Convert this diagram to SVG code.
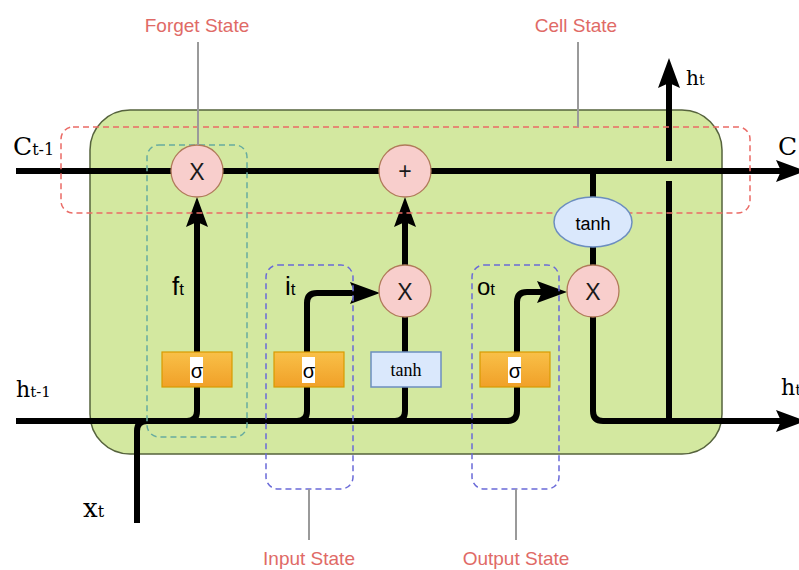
<svg xmlns="http://www.w3.org/2000/svg" width="799" height="570" viewBox="0 0 799 570">
<style>
.ln{fill:none;stroke:#000;stroke-width:6}
.arr{marker-end:url(#ah)}
.call{fill:none;stroke:#9a9a9a;stroke-width:2}
.ctext{font-family:"Liberation Sans",Arial,sans-serif;font-size:19px;fill:#e06a66;text-anchor:middle}
.serif{font-family:"DejaVu Serif","Liberation Serif",serif;fill:#000}
.sans{font-family:"Liberation Sans",Arial,sans-serif;fill:#000}
.op{fill:#f8cecc;stroke:#b07a5a;stroke-width:1.3}
.sig{fill:url(#og);stroke:#d79b00;stroke-width:1.2}
.blue{fill:#dae8fc;stroke:#6c8ebf;stroke-width:1.5}
.optext{font-family:"Liberation Sans",Arial,sans-serif;font-size:23px;text-anchor:middle;fill:#1a1a1a}
.dash{fill:none;stroke-width:1.5;stroke-dasharray:6 4}
</style>
<defs>
<marker id="ah" viewBox="0 0 30 22" markerWidth="30" markerHeight="22" refX="15" refY="11" markerUnits="userSpaceOnUse" orient="auto">
<path d="M0,0 L30,11 L0,22 L5,11 Z" fill="#000"/>
</marker>
<linearGradient id="og" x1="0" y1="0" x2="0" y2="1">
<stop offset="0" stop-color="#f9c048"/>
<stop offset="1" stop-color="#f0a028"/>
</linearGradient>
</defs>
<rect width="799" height="570" fill="#fff"/>

<g id="cell">
<rect x="90" y="110" width="632" height="344" rx="40" fill="#d3e8a0" stroke="#56633d" stroke-width="1.5"/>
</g>

<g id="connectors">
<path class="ln arr" d="M16,171 H791"/>
<path class="ln" d="M137,523 V431 Q137,421 147,421"/>
<path class="ln arr" d="M16,421 H507 Q517,421 517,411 V302 Q517,292 527,292 H552"/>
<path class="ln arr" d="M187,421 Q197,421 197,411 V212"/>
<path class="ln arr" d="M297,421 Q307,421 307,411 V303 Q307,293 317,293 H365"/>
<path class="ln" d="M395,421 Q405,421 405,411 V317"/>
<path class="ln arr" d="M405,265 V212"/>
<path class="ln" d="M593,171 V197"/>
<path class="ln" d="M593,247 V265"/>
<path class="ln arr" d="M593,317 V411 Q593,421 603,421 H791"/>
<path class="ln" d="M669,421 V181"/>
<path class="ln arr" d="M669,161 V73"/>
</g>

<g id="regions">
<rect class="dash" x="61" y="127" width="689" height="86" rx="12" stroke="#ea6b66"/>
<rect class="dash" x="147" y="145" width="100" height="292" rx="12" stroke="#67ab9f"/>
<rect class="dash" x="266" y="265" width="87" height="224" rx="12" stroke="#6a6ad8"/>
<rect class="dash" x="472" y="265" width="87" height="224" rx="12" stroke="#6a6ad8"/>
</g>

<g id="forget-mult">
<circle class="op" cx="197" cy="171" r="26"/>
<text class="optext" x="197" y="180">X</text>
</g>
<g id="add">
<circle class="op" cx="405" cy="171" r="26"/>
<text class="optext" x="405" y="179">+</text>
</g>
<g id="input-mult">
<circle class="op" cx="405" cy="291" r="26"/>
<text class="optext" x="405" y="300">X</text>
</g>
<g id="output-mult">
<circle class="op" cx="593" cy="291" r="26"/>
<text class="optext" x="593" y="300">X</text>
</g>
<g id="tanh-cell">
<ellipse class="blue" cx="593" cy="222" rx="39" ry="25"/>
<text class="sans" x="593" y="230" font-size="18" text-anchor="middle">tanh</text>
</g>
<g id="forget-sigma">
<rect class="sig" x="162" y="352" width="70" height="35"/>
<rect x="190" y="357" width="13" height="26" fill="#fff"/>
<text class="sans" x="197" y="378" font-size="20" text-anchor="middle">σ</text>
</g>
<g id="input-sigma">
<rect class="sig" x="274" y="352" width="70" height="35"/>
<rect x="302" y="357" width="13" height="26" fill="#fff"/>
<text class="sans" x="309" y="378" font-size="20" text-anchor="middle">σ</text>
</g>
<g id="input-tanh">
<rect class="blue" x="371" y="352" width="70" height="35"/>
<text x="406" y="376" font-family="'Liberation Serif','Times New Roman',serif" font-size="18" text-anchor="middle">tanh</text>
</g>
<g id="output-sigma">
<rect class="sig" x="480" y="352" width="70" height="35"/>
<rect x="508" y="357" width="13" height="26" fill="#fff"/>
<text class="sans" x="515" y="378" font-size="20" text-anchor="middle">σ</text>
</g>

<g id="labels">
<text class="serif" x="13" y="155" font-size="25">C<tspan font-size="16">t-1</tspan></text>
<text class="serif" x="778" y="155" font-size="25">C</text>
<text class="serif" x="16" y="397" font-size="22">h<tspan font-size="15">t-1</tspan></text>
<text class="serif" x="781" y="395" font-size="22">h<tspan font-size="15">t</tspan></text>
<text class="serif" x="686" y="85" font-size="20">h<tspan font-size="14">t</tspan></text>
<text class="serif" x="83" y="517" font-size="26">x<tspan font-size="16">t</tspan></text>
<text class="sans" x="172" y="295" font-size="26">f<tspan font-size="17">t</tspan></text>
<text class="sans" x="285" y="295" font-size="26">i<tspan font-size="17">t</tspan></text>
<text class="sans" x="477" y="295" font-size="24">o<tspan font-size="17">t</tspan></text>
</g>

<g id="callouts">
<path class="call" d="M198,42 V145"/>
<path class="call" d="M578,42 V127"/>
<path class="call" d="M309,489 V540"/>
<path class="call" d="M516,489 V540"/>
<text class="ctext" x="197" y="32" font-size="20">Forget State</text>
<text class="ctext" x="576" y="32">Cell State</text>
<text class="ctext" x="309" y="565">Input State</text>
<text class="ctext" x="516" y="565">Output State</text>
</g>
</svg>
